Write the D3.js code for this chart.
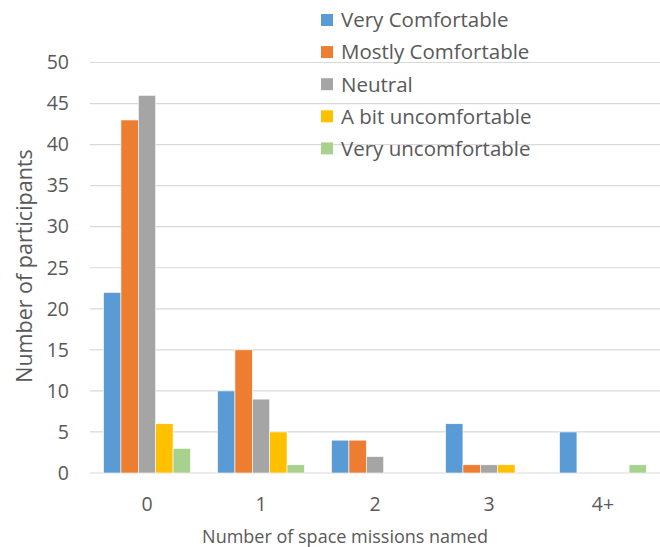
<!DOCTYPE html>
<html>
<head>
<meta charset="utf-8">
<script src="https://cdn.jsdelivr.net/npm/d3@7"></script>
<style>
  html, body { margin: 0; padding: 0; background: #fff; }
  svg { display: block; }
  text { font-family: "Open Sans", "Liberation Sans", sans-serif; fill: #595959; }
</style>
</head>
<body>
<svg id="chart" width="660" height="547"></svg>
<script>
// Number of space missions named (x categories)
const categories = ["0", "1", "2", "3", "4+"];
// Comfort levels (series)
const seriesNames = ["Very Comfortable", "Mostly Comfortable", "Neutral", "A bit uncomfortable", "Very uncomfortable"];
const seriesColors = ["#5B9BD5", "#ED7D31", "#A5A5A5", "#FFC000", "#A9D18E"];
// Participant counts per series, one value per category
const veryComfortable = [22, 10, 4, 6, 5];
const mostlyComfortable = [43, 15, 4, 1, 0];
const neutral = [46, 9, 2, 1, 0];
const bitUncomfortable = [6, 5, 0, 1, 0];
const veryUncomfortable = [3, 1, 0, 0, 1];
const yTicks = [0, 5, 10, 15, 20, 25, 30, 35, 40, 45, 50];

const seriesValues = [veryComfortable, mostlyComfortable, neutral, bitUncomfortable, veryUncomfortable];

const svg = d3.select("#chart");
const plot = { left: 90, right: 660, top: 62.5, bottom: 473 };
const font = "'Open Sans', 'Liberation Sans', sans-serif";

const x = d3.scaleBand().domain(categories).range([plot.left, plot.right]).paddingInner(0.238).paddingOuter(0.119);
const xs = d3.scaleBand().domain(seriesNames).range([0, x.bandwidth()]);
const y = d3.scaleLinear().domain([0, 50]).range([plot.bottom, plot.top]);

// horizontal gridlines
svg.append("g").selectAll("line").data(yTicks).join("line")
  .attr("x1", plot.left).attr("x2", plot.right)
  .attr("y1", d => y(d)).attr("y2", d => y(d))
  .attr("stroke", "#D9D9D9").attr("stroke-width", 1.2);

// bars
const groups = svg.append("g").selectAll("g").data(categories).join("g")
  .attr("transform", d => `translate(${x(d)},0)`);
groups.selectAll("rect")
  .data((c, ci) => seriesNames.map((s, si) => ({ s, si, v: seriesValues[si][ci] })))
  .join("rect")
  .filter(d => d.v > 0)
  .attr("x", d => xs(d.s))
  .attr("width", xs.bandwidth())
  .attr("y", d => y(d.v))
  .attr("height", d => y(0) - y(d.v))
  .attr("fill", d => seriesColors[d.si])
  .attr("stroke", "#fff").attr("stroke-width", 0.6);

// y axis labels
const yAxis = d3.axisLeft(y).tickValues(yTicks).tickSize(0).tickPadding(0);
const yg = svg.append("g").attr("transform", `translate(69,0)`).call(yAxis);
yg.select(".domain").remove();
yg.selectAll("text").attr("font-size", 19.5).attr("fill", "#595959").style("font-family", font);

// x axis labels
const xAxis = d3.axisBottom(x).tickSize(0).tickPadding(0);
const xg = svg.append("g").attr("transform", `translate(0,${plot.bottom + 24})`).call(xAxis);
xg.select(".domain").remove();
xg.selectAll("text").attr("font-size", 19.5).attr("fill", "#595959").style("font-family", font);

// axis titles
svg.append("text").attr("x", 345).attr("y", 543).attr("text-anchor", "middle")
  .attr("font-size", 18).text("Number of space missions named");
svg.append("text").attr("transform", "translate(32,266) rotate(-90)").attr("text-anchor", "middle")
  .attr("font-size", 21.5).text("Number of participants");

// legend
const legend = svg.append("g").selectAll("g").data(seriesNames).join("g")
  .attr("transform", (d, i) => `translate(321,${20 + i * 32.1})`);
legend.append("rect").attr("x", 0).attr("y", -6).attr("width", 12).attr("height", 12)
  .attr("fill", (d, i) => seriesColors[i]);
legend.append("text").attr("x", 20).attr("y", 0).attr("dy", "0.36em")
  .attr("font-size", 20.5).text(d => d);
</script>
</body>
</html>
